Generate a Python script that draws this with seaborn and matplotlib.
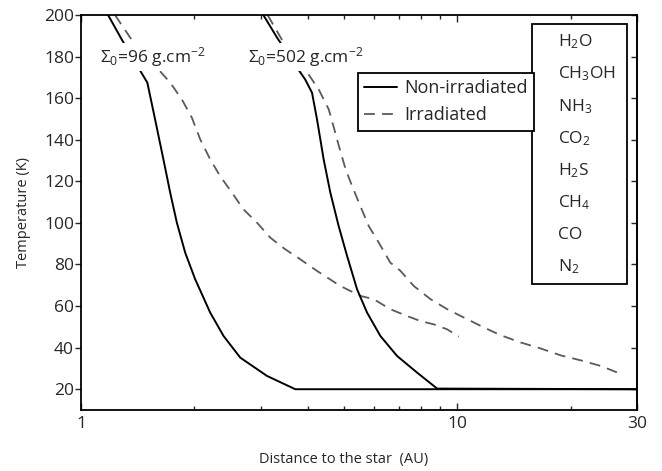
import numpy as np
import pandas as pd
import matplotlib
matplotlib.use("Agg")
import matplotlib.pyplot as plt
import seaborn as sns
from matplotlib.patches import Rectangle
from matplotlib.ticker import FixedLocator, NullFormatter

# Temperature profiles (distance in AU, T in K)
nonirr_96_r = [1.18, 1.285, 1.42, 1.50, 1.573, 1.655, 1.725, 1.797, 1.891, 2.01, 2.203,
               2.391, 2.648, 3.118, 3.708, 30.0]
nonirr_96_T = [200, 188, 174.7, 167.5, 149.8, 130.6, 114.6, 100.1, 85.7, 72.9, 56.9,
               45.6, 35.2, 26.4, 20, 20]

nonirr_502_r = [3.05, 3.32, 3.747, 3.94, 4.108, 4.235, 4.41, 4.594, 4.834, 5.09, 5.41,
                5.75, 6.24, 6.91, 7.81, 8.83, 30.0]
nonirr_502_T = [200, 189, 174.7, 169, 162.6, 149.8, 130.6, 114.6, 98.5, 84.1, 68.1,
                56.9, 45.6, 36, 28, 20.3, 20]

irr_96_r = [1.231, 1.364, 1.59, 1.725, 1.853, 1.97, 2.073, 2.203, 2.342, 2.516, 2.702,
            2.934, 3.183, 3.487, 3.823, 4.235, 4.88, 5.52, 5.99, 6.63, 7.35, 7.97, 8.65,
            9.39, 10.08]
irr_96_T = [200, 188, 174.7, 167.5, 159.4, 150.6, 140.2, 130.6, 122.5, 114.6, 106.5,
            100.1, 92.9, 87.3, 82.5, 76.9, 69.7, 64.9, 63.3, 58.5, 55.2, 52.8, 51.2,
            48.8, 45.3]

irr_502_r = [3.13, 3.42, 3.94, 4.28, 4.55, 4.70, 4.85, 5.05, 5.25, 5.52, 5.81, 6.18, 6.63,
             7.05, 7.65, 8.48, 9.39, 10.39, 11.75, 13.01, 14.71, 16.63, 18.79, 21.24,
             24.01, 26.85]
irr_502_T = [200, 188, 173.8, 164.2, 154.6, 145.5, 136.5, 125.5, 117.7, 108.1, 98.5, 90.5,
             80.9, 77.0, 69.7, 63.3, 58.5, 54.5, 49.7, 46, 42.5, 39.6, 36.3, 33.9, 31.2, 27.7]

molecules = ["H$_2$O", "CH$_3$OH", "NH$_3$", "CO$_2$", "H$_2$S", "CH$_4$", "CO", "N$_2$"]
y_ticks = [20, 40, 60, 80, 100, 120, 140, 160, 180, 200]
x_major = [1, 10, 30]
x_minor = [2, 3, 4, 5, 6, 7, 8, 9, 20]

sns.set_style("white")
plt.rcParams['font.family'] = ['Open Sans', 'DejaVu Sans']
plt.rcParams['mathtext.fontset'] = 'custom'
plt.rcParams['mathtext.rm'] = 'Open Sans'
plt.rcParams['mathtext.it'] = 'Open Sans:italic'
plt.rcParams['mathtext.default'] = 'regular'

fig = plt.figure(figsize=(6.62, 4.71), dpi=100)
ax = fig.add_axes([0.1224, 0.1295, 0.840, 0.8386])

solid_kw = dict(color='black', linewidth=1.4)
dash_kw = dict(color='#5a5a5a', linewidth=1.3, dashes=(6, 4))

sns.lineplot(x=nonirr_96_r, y=nonirr_96_T, ax=ax, sort=False, label='Non-irradiated', **solid_kw)
sns.lineplot(x=irr_96_r, y=irr_96_T, ax=ax, sort=False, label='Irradiated', **dash_kw)
sns.lineplot(x=nonirr_502_r, y=nonirr_502_T, ax=ax, sort=False, **solid_kw)
sns.lineplot(x=irr_502_r, y=irr_502_T, ax=ax, sort=False, **dash_kw)

ax.set_xscale('log')
ax.set_xlim(1, 30)
ax.set_ylim(10, 200)

ax.xaxis.set_major_locator(FixedLocator(x_major))
ax.xaxis.set_minor_locator(FixedLocator(x_minor))
ax.xaxis.set_minor_formatter(NullFormatter())
ax.set_xticklabels([str(v) for v in x_major])
ax.set_yticks(y_ticks)

for s in ax.spines.values():
    s.set_linewidth(1.3)
    s.set_color('black')

ax.tick_params(axis='x', which='both', direction='in', top=True, bottom=True,
               labelsize=12.5, pad=4, width=1)
ax.tick_params(axis='x', which='major', length=5)
ax.tick_params(axis='x', which='minor', length=3)
ax.tick_params(axis='y', which='major', direction='out', left=True, right=False,
               labelsize=12.5, length=4, width=1, pad=1)
sec = ax.secondary_yaxis('right')
sec.set_yticks(y_ticks)
sec.tick_params(direction='in', length=4, width=1, labelright=False)
sec.spines['right'].set_linewidth(1.3)

ax.set_xlabel('Distance to the star  (AU)', fontsize=10.5)
ax.xaxis.set_label_coords(0.472, -0.106)
ax.set_ylabel('Temperature (K)', fontsize=10.5)
ax.yaxis.set_label_coords(-0.09, 0.5)

box = dict(facecolor='white', edgecolor='none', pad=1.5)
ax.text(1.12, 180, r'$\Sigma_0$=96 g.cm$^{-2}$', fontsize=12.5, ha='left', va='center', bbox=box, zorder=5)
ax.text(2.78, 180, r'$\Sigma_0$=502 g.cm$^{-2}$', fontsize=12.5, ha='left', va='center', bbox=box, zorder=5)

leg = ax.legend(loc='upper left', bbox_to_anchor=(0.498, 0.853), fontsize=13, frameon=True,
                fancybox=False, framealpha=1, edgecolor='black', borderaxespad=0,
                handlelength=1.8, handletextpad=0.4, borderpad=0.35, labelspacing=0.5)
leg.get_frame().set_linewidth(1.3)
leg.set_zorder(6)

# molecule box (axes coords)
x0 = (532 - 81) / 556
x1 = (627 - 81) / 556
y_top = 1 - (24 - 15) / 395
y_bot = 1 - (284 - 15) / 395
ax.add_patch(Rectangle((x0, y_bot), x1 - x0, y_top - y_bot, transform=ax.transAxes,
                       facecolor='white', edgecolor='black', linewidth=1.3, zorder=6))
for i, m in enumerate(molecules):
    ypix = 42 + i * 32.1
    ax.text((558 - 81) / 556, 1 - (ypix - 15) / 395, m, transform=ax.transAxes,
            fontsize=12.5, ha='left', va='center', zorder=7)

fig.savefig('out.png', dpi=100)
